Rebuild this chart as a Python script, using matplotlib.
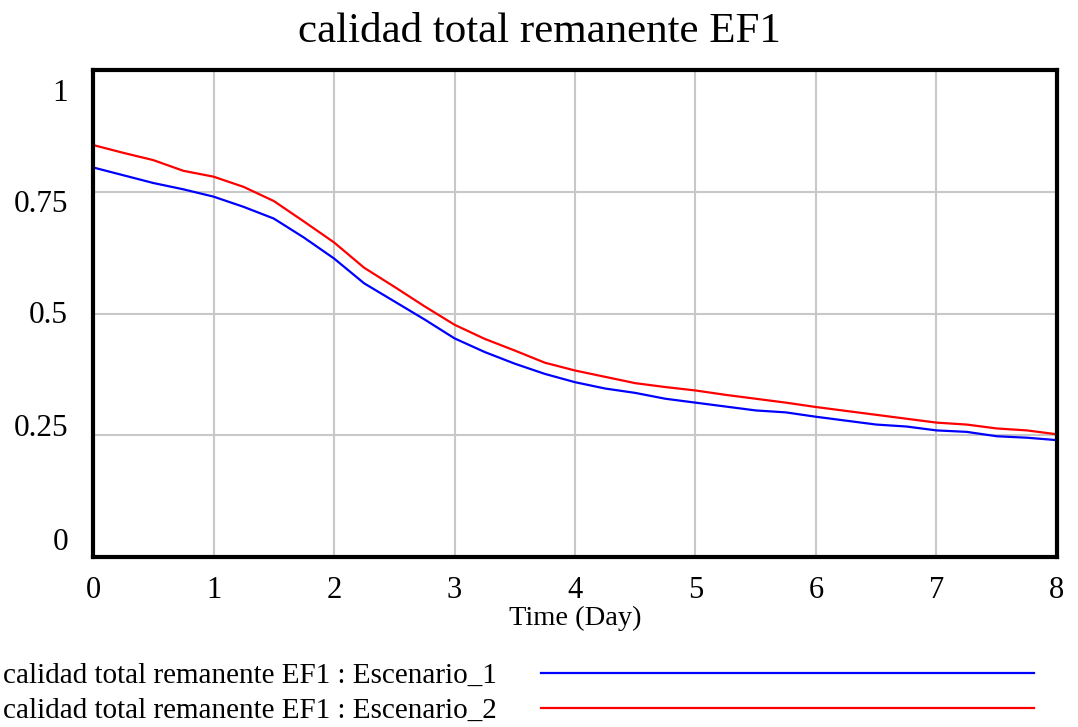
import matplotlib
matplotlib.use("Agg")
import matplotlib.pyplot as plt
import matplotlib.transforms as mtransforms
import numpy as np

plt.rcParams['font.family'] = ['Liberation Serif', 'DejaVu Serif']

# tiempo (dias), paso 0.25
time = np.arange(0, 8.01, 0.25)
escenario_1 = [0.800, 0.784, 0.768, 0.755, 0.740, 0.719, 0.695, 0.656, 0.613,
               0.562, 0.525, 0.488, 0.449, 0.421, 0.397, 0.376, 0.359, 0.346,
               0.337, 0.325, 0.317, 0.309, 0.301, 0.297, 0.288, 0.280, 0.272,
               0.268, 0.260, 0.257, 0.248, 0.245, 0.240]
escenario_2 = [0.846, 0.830, 0.815, 0.793, 0.781, 0.760, 0.731, 0.689, 0.646,
               0.594, 0.555, 0.515, 0.477, 0.448, 0.424, 0.399, 0.383, 0.370,
               0.357, 0.349, 0.342, 0.333, 0.325, 0.317, 0.308, 0.300, 0.292,
               0.284, 0.276, 0.272, 0.264, 0.260, 0.252]
x_ticks = [0, 1, 2, 3, 4, 5, 6, 7, 8]
y_ticks = [0, 0.25, 0.5, 0.75, 1]
y_labels = ["0", "0.25", "0.5", "0.75", "1"]
var_name = "calidad total remanente EF1"

fig = plt.figure(figsize=(10.78, 7.27), dpi=100)
ax = fig.add_axes([0.0863, 0.2338, 0.8942, 0.6699])

ax.plot(time, escenario_1, color='#0000ff', lw=1.6, label=f"{var_name} : Escenario_1")
ax.plot(time, escenario_2, color='#ff0000', lw=1.6, label=f"{var_name} : Escenario_2")

ax.set_xlim(0, 8)
ax.set_ylim(0, 1)
ax.set_xticks(x_ticks)
ax.set_yticks(y_ticks)
ax.set_yticklabels([])
ax.grid(True, color='#c8c8c8', lw=1.5)
ax.set_axisbelow(True)
for s in ax.spines.values():
    s.set_linewidth(3)
ax.tick_params(length=0)
ax.tick_params(axis='x', labelsize=22, pad=14)

# y labels spread evenly inside the axis range (Vensim style)
shifts = [15, 7, -2, -13, -23]  # px, upward positive
for val, lab, dy in zip(y_ticks, y_labels, shifts):
    tr = mtransforms.blended_transform_factory(ax.transAxes, ax.transData)
    tr = tr + mtransforms.ScaledTranslation(-25 / 100, dy / 100, fig.dpi_scale_trans)
    ax.text(0, val, lab, transform=tr, ha='right', va='center', fontsize=22.5)

ax.set_xlabel("Time (Day)", fontsize=20.5, labelpad=0)
fig.suptitle(var_name, fontsize=31, y=0.983)

ax.legend(loc='upper left', bbox_to_anchor=(-0.008, 0.105), bbox_transform=fig.transFigure,
          frameon=False, markerfirst=False, fontsize=21, handlelength=16.9,
          handletextpad=1.5, labelspacing=0.3, borderaxespad=0)

fig.savefig("out.png", dpi=100)
